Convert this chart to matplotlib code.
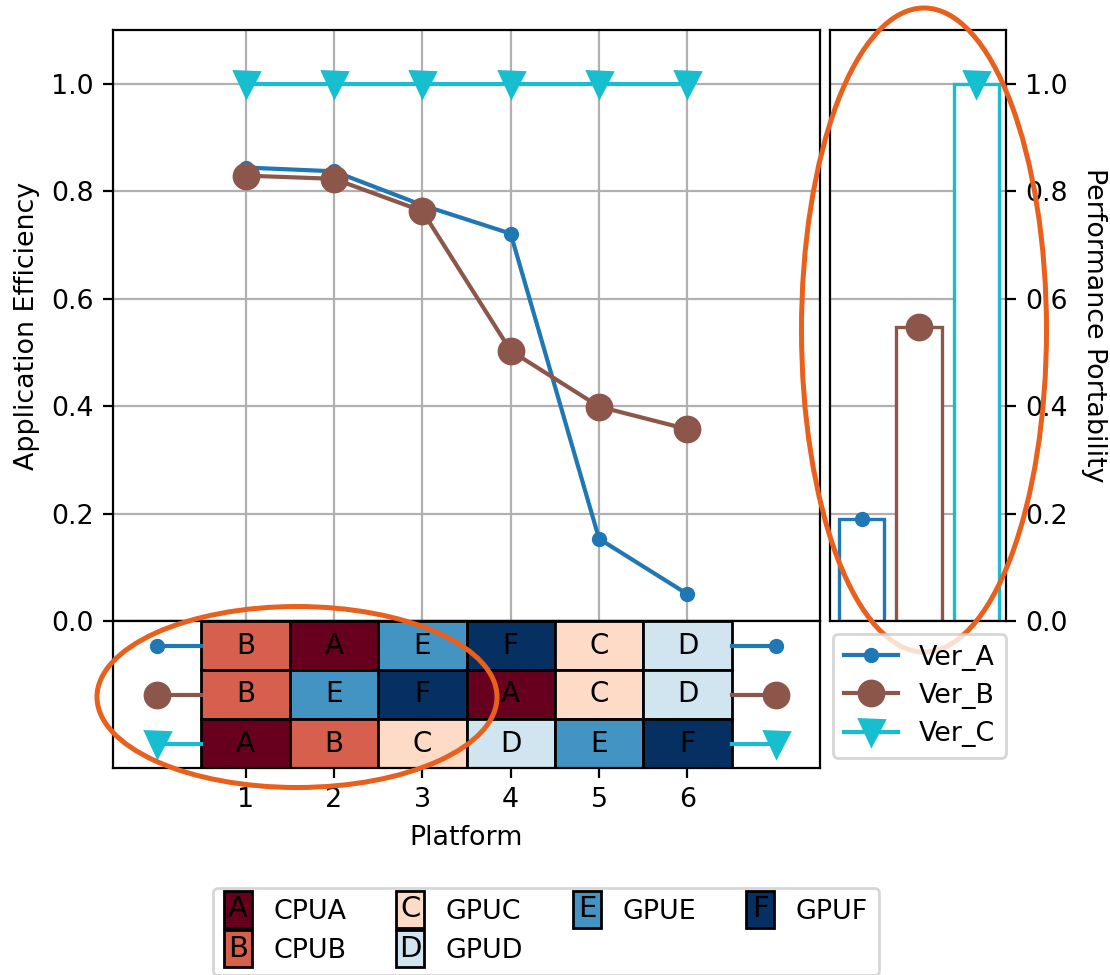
import numpy as np
import matplotlib
matplotlib.use("Agg")
import matplotlib.pyplot as plt
from matplotlib.patches import Rectangle, Ellipse, Patch
from matplotlib.legend_handler import HandlerBase
from matplotlib.text import Text

# ---------------- data ----------------
versions = ["Ver_A", "Ver_B", "Ver_C"]
positions = [1, 2, 3, 4, 5, 6]
eff_ver_a = [0.844, 0.837, 0.774, 0.721, 0.153, 0.050]
eff_ver_b = [0.829, 0.823, 0.763, 0.503, 0.399, 0.357]
eff_ver_c = [1.0, 1.0, 1.0, 1.0, 1.0, 1.0]
pp_values = [0.19, 0.548, 1.0]

platform_letters = ["A", "B", "C", "D", "E", "F"]
platform_names = ["CPUA", "CPUB", "GPUC", "GPUD", "GPUE", "GPUF"]
order_ver_a = ["B", "A", "E", "F", "C", "D"]
order_ver_b = ["B", "E", "F", "A", "C", "D"]
order_ver_c = ["A", "B", "C", "D", "E", "F"]

yticks = [0.0, 0.2, 0.4, 0.6, 0.8, 1.0]

# ---------------- style ----------------
FS = 9.7
plt.rcParams["font.size"] = FS
colors = ["#1f77b4", "#8c564b", "#17becf"]
markers = ["o", "o", "v"]
msizes = [4.5, 9, 9]
pcolors = plt.cm.RdBu(np.linspace(0, 1, len(platform_letters)))
pcolor_map = dict(zip(platform_letters, pcolors))

W, H = 1110, 975
fig = plt.figure(figsize=(W / 200, H / 200), dpi=200)

def fx(px):
    return px / W

def fy(py):
    return 1 - py / H

ax = fig.add_axes([fx(113), fy(621), fx(820) - fx(113), fy(30) - fy(621)])
axt = fig.add_axes([fx(113), fy(768), fx(820) - fx(113), fy(621) - fy(768)])
axr = fig.add_axes([fx(830), fy(621), fx(1006) - fx(830), fy(30) - fy(621)])

effs = [eff_ver_a, eff_ver_b, eff_ver_c]
orders = [order_ver_a, order_ver_b, order_ver_c]

# main plot
handles = []
for i, v in enumerate(versions):
    h, = ax.plot(positions, effs[i], color=colors[i], marker=markers[i],
                 markersize=msizes[i], lw=1.5, label=v, zorder=3)
    handles.append(h)
ax.set_xlim(-0.5, 7.5)
ax.set_ylim(0, 1.1)
ax.set_xticks(positions)
ax.set_yticks(yticks)
ax.tick_params(axis="x", length=0, labelbottom=False)
ax.grid(True, color="#b0b0b0", lw=0.8)
ax.set_ylabel("Application Efficiency")

# table axes
nrow = len(versions)
for i, v in enumerate(versions):
    row_y = nrow - 1 - i
    for j, letter in enumerate(orders[i]):
        x = positions[j]
        axt.add_patch(Rectangle((x - 0.5, row_y - 0.5), 1, 1,
                                facecolor=pcolor_map[letter], edgecolor="black", lw=1))
        axt.text(x, row_y, letter, ha="center", va="center", fontsize=10, color="black")
    axt.plot([0, 0.5], [row_y, row_y], color=colors[i], marker=markers[i],
             markersize=msizes[i], markevery=[0], lw=1.5, clip_on=False)
    axt.plot([6.5, 7], [row_y, row_y], color=colors[i], marker=markers[i],
             markersize=msizes[i], markevery=[1], lw=1.5, clip_on=False)
axt.set_xlim(-0.5, 7.5)
axt.set_ylim(-0.5, nrow - 0.5)
axt.set_xticks(positions)
axt.set_yticks([])
axt.set_xlabel("Platform")

# right PP bars
xr = np.arange(len(versions))
for i, v in enumerate(versions):
    axr.bar(xr[i], pp_values[i], width=0.79, facecolor="white",
            edgecolor=colors[i], lw=1.2, zorder=2)
    axr.plot([xr[i]], [pp_values[i]], color=colors[i], marker=markers[i],
             markersize=msizes[i], zorder=3, clip_on=False)
axr.set_xlim(-0.55, 2.52)
axr.set_ylim(0, 1.1)
axr.set_xticks([])
axr.set_yticks(yticks)
axr.yaxis.tick_right()
axr.yaxis.set_label_position("right")
axr.set_ylabel("Performance Portability", rotation=270, labelpad=14)
axr.grid(True, axis="y", color="#b0b0b0", lw=0.8, zorder=0)
axr.set_axisbelow(True)

fig.legend(handles=handles, loc="upper left",
           bbox_to_anchor=(fx(833), fy(634)), fontsize=FS,
           borderaxespad=0, handlelength=2.0, labelspacing=0.45)

# bottom platform legend
class LetterBox(HandlerBase):
    def __init__(self, letter, color):
        super().__init__()
        self.letter = letter
        self.color = color

    def create_artists(self, legend, orig_handle, xdescent, ydescent,
                       width, height, fontsize, trans):
        bh = 13.3
        cy = -ydescent + height / 2
        r = Rectangle((-xdescent, cy - bh / 2), width, bh,
                      facecolor=self.color, edgecolor="black", lw=1, transform=trans)
        t = Text(-xdescent + width / 2, cy, self.letter,
                 ha="center", va="center", fontsize=10.5, color="black",
                 transform=trans)
        return [r, t]

phandles = [Patch(label=n) for n in platform_names]
hmap = {h: LetterBox(l, pcolor_map[l]) for h, l in zip(phandles, platform_letters)}
fig.legend(handles=phandles, handler_map=hmap, loc="upper center",
           bbox_to_anchor=(fx(546), fy(888)), ncol=4, fontsize=FS,
           handlelength=10.1 / FS, borderaxespad=0, columnspacing=1.85)

# annotation ellipses
orange = "#E8601C"
fig.add_artist(Ellipse((fx(924), fy(330)), fx(245), 644 / H, fill=False,
                       edgecolor=orange, lw=1.8, transform=fig.transFigure))
fig.add_artist(Ellipse((fx(297), fy(697)), fx(400), 181 / H, fill=False,
                       edgecolor=orange, lw=1.8, transform=fig.transFigure))

fig.savefig("out.png", dpi=200)
